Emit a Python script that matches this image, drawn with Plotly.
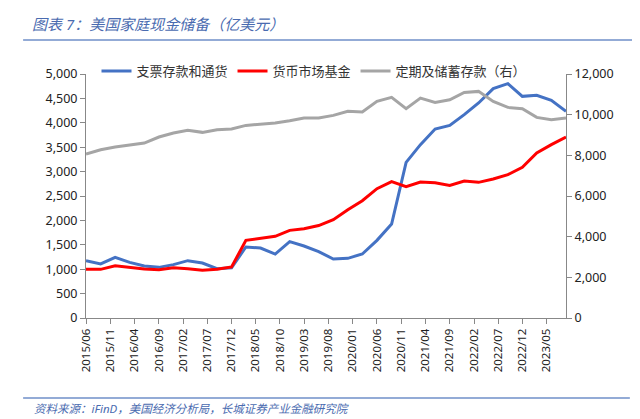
import plotly.graph_objects as go

# quarterly observations
dates = ["2015-06", "2015-09", "2015-12", "2016-03", "2016-06", "2016-09", "2016-12",
         "2017-03", "2017-06", "2017-09", "2017-12", "2018-03", "2018-06", "2018-09",
         "2018-12", "2019-03", "2019-06", "2019-09", "2019-12", "2020-03", "2020-06",
         "2020-09", "2020-12", "2021-03", "2021-06", "2021-09", "2021-12", "2022-03",
         "2022-06", "2022-09", "2022-12", "2023-03", "2023-06", "2023-09"]

checkable = [1175, 1107, 1243, 1140, 1066, 1038, 1093, 1175, 1127, 1010, 1030, 1455,
             1434, 1311, 1564, 1475, 1360, 1209, 1223, 1311, 1591, 1926, 3190, 3552,
             3873, 3945, 4167, 4406, 4700, 4802, 4542, 4563, 4460, 4235]
money_market = [997, 997, 1072, 1038, 1004, 990, 1031, 1011, 977, 1000, 1045, 1591,
                1626, 1673, 1796, 1830, 1895, 2015, 2220, 2404, 2650, 2794, 2691, 2787,
                2773, 2715, 2807, 2780, 2848, 2937, 3087, 3381, 3552, 3709]
time_savings = [8064, 8277, 8408, 8523, 8605, 8900, 9097, 9228, 9130, 9260, 9293, 9473,
                9539, 9588, 9703, 9834, 9840, 9965, 10162, 10129, 10654, 10850, 10293,
                10817, 10604, 10735, 11096, 11145, 10654, 10358, 10293, 9867, 9752, 9834]

tick_labels = ["2015/06", "2015/11", "2016/04", "2016/09", "2017/02", "2017/07",
               "2017/12", "2018/05", "2018/10", "2019/03", "2019/08", "2020/01",
               "2020/06", "2020/11", "2021/04", "2021/09", "2022/02", "2022/07",
               "2022/12", "2023/05"]

names = ["支票存款和通货", "货币市场基金", "定期及储蓄存款（右）"]

FONT = "Noto Sans, Noto Sans CJK SC, sans-serif"
x = [d + "-01" for d in dates]

fig = go.Figure()
fig.add_trace(go.Scatter(x=x, y=checkable, name=names[0], mode="lines",
                         line=dict(color="#4472C4", width=3)))
fig.add_trace(go.Scatter(x=x, y=money_market, name=names[1], mode="lines",
                         line=dict(color="#FF0000", width=3)))
fig.add_trace(go.Scatter(x=x, y=time_savings, name=names[2], mode="lines", yaxis="y2",
                         line=dict(color="#A5A5A5", width=3)))

fig.update_layout(
    width=640, height=419,
    margin=dict(l=78, r=82, t=66, b=109, autoexpand=False),
    paper_bgcolor="white", plot_bgcolor="white",
    font=dict(family=FONT, size=12, color="#222"),
    title=dict(text="图表 7：美国家庭现金储备（亿美元）", xref="container", yref="container",
               x=24 / 640, y=1 - 17 / 419, xanchor="left", yanchor="middle",
               font=dict(size=15, color="#4a6bb0", style="italic")),
    legend=dict(orientation="h", x=0.475, xanchor="center", y=1.012, yanchor="middle",
                bgcolor="rgba(255,255,255,0)", font=dict(size=13, color="#333"),
                itemwidth=30, tracegroupgap=0),
    xaxis=dict(type="date", range=["2015-06-01", "2023-09-01"],
               tickvals=[t.replace("/", "-") + "-01" for t in tick_labels],
               ticktext=tick_labels, tickangle=-90, tickfont=dict(size=11.5),
               showgrid=False, showline=True, linecolor="#888", linewidth=1,
               ticks="outside", tickcolor="#888", ticklen=5),
    yaxis=dict(range=[0, 5000], dtick=500, tickformat=",", showgrid=False,
               showline=True, linecolor="#888", ticks="outside", tickcolor="#888",
               ticklen=5, zeroline=False, tickfont=dict(size=12.5)),
    yaxis2=dict(range=[0, 12000], dtick=2000, tickformat=",", overlaying="y",
                side="right", showgrid=False, showline=True, linecolor="#888",
                ticks="outside", tickcolor="#888", ticklen=5, zeroline=False,
                tickfont=dict(size=12.5)),
    shapes=[
        dict(type="line", xref="paper", yref="paper", x0=-0.131, x1=1.171,
             y0=1.139, y1=1.139, line=dict(color="#6f8fc8", width=1.5)),
        dict(type="line", xref="paper", yref="paper", x0=-0.131, x1=1.133,
             y0=-0.328, y1=-0.328, line=dict(color="#6f8fc8", width=1.5)),
    ],
    annotations=[
        dict(text="资料来源：iFinD，美国经济分析局，长城证券产业金融研究院",
             xref="paper", yref="paper", x=-0.112, y=-0.369, xanchor="left",
             yanchor="middle", showarrow=False,
             font=dict(size=11.5, color="#4a6bb0", style="italic")),
    ],
)

fig.write_html("out.html")
